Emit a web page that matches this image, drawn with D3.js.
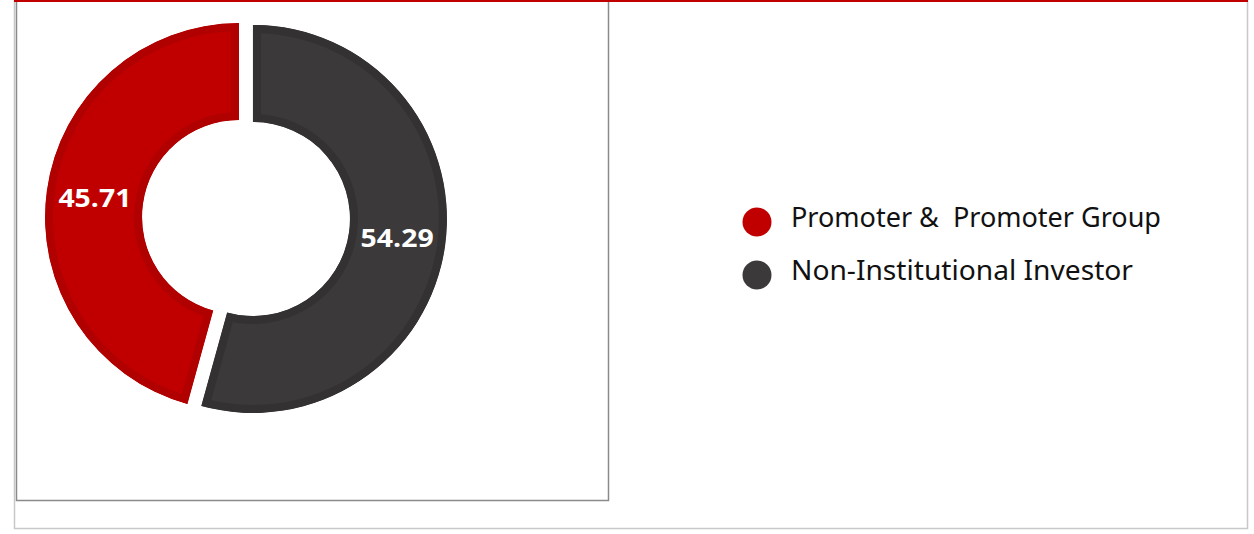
<!DOCTYPE html>
<html>
<head>
<meta charset="utf-8">
<script src="https://cdn.jsdelivr.net/npm/d3@7"></script>
<style>
  html, body { margin: 0; padding: 0; background: #fff; }
  svg { display: block; }
</style>
</head>
<body>
<div id="chart"></div>
<script>
var categories = ["Promoter &  Promoter Group", "Non-Institutional Investor"];
var values = [45.71, 54.29];
var labels = ["45.71", "54.29"];
var colors = ["#c00000", "#3b393a"];
var borderColors = ["#b00000", "#333132"];

var width = 1254, height = 534;
var svg = d3.select("#chart").append("svg")
  .attr("width", width)
  .attr("height", height);

// outer frame
svg.append("rect")
  .attr("x", 14.5).attr("y", 0.5)
  .attr("width", 1233).attr("height", 528)
  .attr("fill", "none")
  .attr("stroke", "#c8c8c8")
  .attr("stroke-width", 1.5);

// inner plot frame
svg.append("rect")
  .attr("x", 16.5).attr("y", -1)
  .attr("width", 592).attr("height", 501.5)
  .attr("fill", "none")
  .attr("stroke", "#8a8a8a")
  .attr("stroke-width", 1.5);

// red top rule
svg.append("rect")
  .attr("x", 14).attr("y", 0)
  .attr("width", 1234).attr("height", 2)
  .attr("fill", "#c00000");

var cx = 246, cy = 218;
var outerR = 194, innerR = 97, explode = 7;

var total = d3.sum(values);
var start = -values[0] / total * 2 * Math.PI;
var pie = d3.pie().sort(null)
  .startAngle(start)
  .endAngle(start + 2 * Math.PI);
var arcs = pie(values);

var arc = d3.arc().innerRadius(innerR).outerRadius(outerR);

var g = svg.append("g").attr("transform", "translate(" + cx + "," + cy + ")");
var defs = svg.append("defs");

arcs.forEach(function(d, i) {
  var mid = (d.startAngle + d.endAngle) / 2;
  var dx = explode * Math.sin(mid), dy = -explode * Math.cos(mid);
  defs.append("clipPath").attr("id", "clip" + i)
    .append("path").attr("d", arc(d));
  var sg = g.append("g").attr("transform", "translate(" + dx + "," + dy + ")");
  sg.append("path")
    .attr("d", arc(d))
    .attr("fill", colors[i])
    .attr("stroke", borderColors[i])
    .attr("stroke-width", 16)
    .attr("clip-path", "url(#clip" + i + ")");
  var r = (innerR + outerR) / 2;
  sg.append("text")
    .attr("x", r * Math.sin(mid))
    .attr("y", -r * Math.cos(mid))
    .attr("dy", "0.36em")
    .attr("text-anchor", "middle")
    .attr("font-family", "'Open Sans', sans-serif")
    .attr("font-weight", "bold")
    .attr("font-size", 25)
    .attr("fill", "#fff")
    .attr("textLength", 73)
    .attr("lengthAdjust", "spacingAndGlyphs")
    .text(labels[i]);
});

// legend
var legendY = [222, 275];
var legendW = [370, 342];
var legend = svg.append("g");
categories.forEach(function(c, i) {
  legend.append("circle")
    .attr("cx", 757).attr("cy", legendY[i])
    .attr("r", 14.5)
    .attr("fill", colors[i]);
  legend.append("text")
    .attr("x", 791).attr("y", legendY[i] + 5)
    .attr("font-family", "'Noto Sans', sans-serif")
    .attr("font-size", 27)
    .attr("fill", "#111")
    .attr("textLength", legendW[i])
    .attr("lengthAdjust", "spacingAndGlyphs")
    .style("white-space", "pre")
    .text(c);
});
</script>
</body>
</html>
